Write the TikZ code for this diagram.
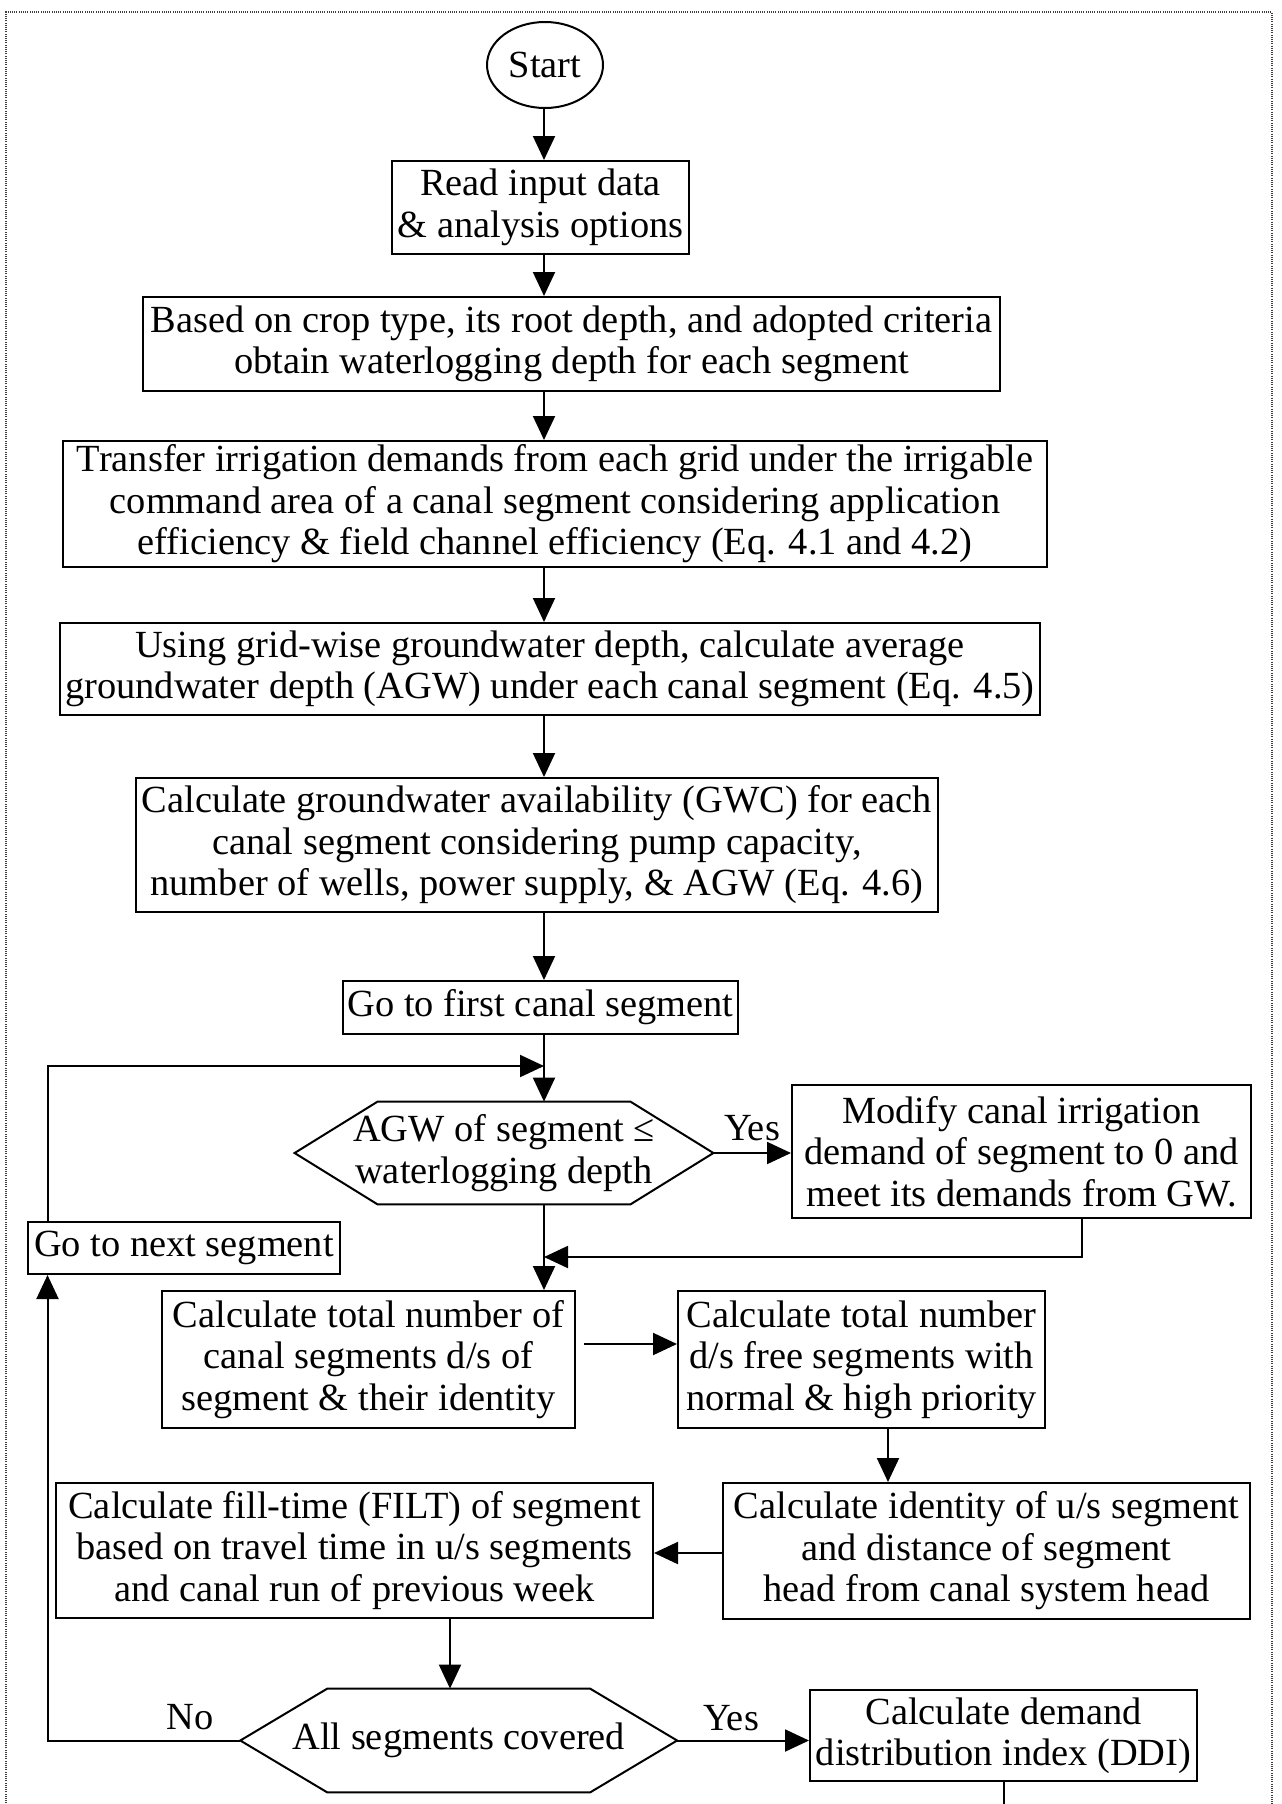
\documentclass[tikz,border=0pt]{standalone}
\usepackage{fontspec}
\setmainfont{Liberation Serif}
\usetikzlibrary{arrows.meta,calc,shapes.geometric}

% hexagonal decision outline drawn around a borderless node
\newcommand\drawhex[2]{%
  \draw[line width=1pt] (#1.west) -- ($(#1.north west)+(#2,0)$) -- ($(#1.north east)+(-#2,0)$)
    -- (#1.east) -- ($(#1.south east)+(-#2,0)$) -- ($(#1.south west)+(#2,0)$) -- cycle;}

\begin{document}
\begin{tikzpicture}[x=0.5pt,y=-0.5pt,
  every node/.style={font=\fontsize{19.2}{20.75}\selectfont},
  sz/.style 2 args={minimum width=#1*0.5pt, minimum height=#2*0.5pt},
  stepbox/.style={draw, line width=1pt, inner sep=0pt, align=center},
  hexnode/.style={inner sep=0pt, align=center},
  flow/.style={line width=1pt, -{Triangle[length=12pt,width=11pt]}},
  plain/.style={line width=1pt},
  frame/.style={line width=0.7pt, dash pattern=on 0.5pt off 0.6pt, black!75},
  lbl/.style={inner sep=0pt},
]
\useasboundingbox (0,0) rectangle (1281,1804);

% page frame
\draw[frame] (6,1810) -- (6,12) -- (1272,12) -- (1272,1810);

% column guides
\coordinate (col) at (544,0);
\coordinate (lx) at (47.5,0);
\coordinate (jtop) at (544,1066);
\coordinate (jmid) at (544,1257);
\coordinate (c12) at (0,1344);
\coordinate (c2x) at (888,0);
\coordinate (yid) at (0,1553);
\coordinate (fx) at (450,0);
\coordinate (bot) at (0,1812);

% process steps
\node[draw, ellipse, line width=1pt, sz={116}{86}, inner sep=0pt] (start) at (545,65) {Start};
\node[stepbox, sz={297}{93}] (read) at (540.5,207.5) {Read input data\\ \& analysis options};
\node[stepbox, sz={857}{94}] (based) at (571.5,344) {Based on crop type, its root depth, and adopted criteria\\ obtain waterlogging depth for each segment};
\node[stepbox, sz={984}{126}] (transfer) at (555,504) {Transfer irrigation demands from each grid under the irrigable\\ command area of a canal segment considering application\\ efficiency \& field channel efficiency (Eq. 4.1 and 4.2)};
\node[stepbox, sz={980}{92}] (using) at (550,669) {Using grid-wise groundwater depth, calculate average\\ groundwater depth (AGW) under each canal segment (Eq. 4.5)};
\node[stepbox, sz={802}{134}] (gwc) at (537,845) {Calculate groundwater availability (GWC) for each\\ canal segment considering pump capacity,\\ number of wells, power supply, \& AGW (Eq. 4.6)};
\node[stepbox, sz={395}{53}] (first) at (540.5,1007.5) {Go to first canal segment};
\node[hexnode, sz={418}{102}] (hex1) at (504,1153) {AGW of segment ≤\\ waterlogging depth};
\drawhex{hex1}{83}
\node[stepbox, sz={459}{133}] (modify) at (1021.5,1151.5) {Modify canal irrigation\\ demand of segment to 0 and\\ meet its demands from GW.};
\node[stepbox, sz={312}{52}] (next) at (184,1248) {Go to next segment};
\node[stepbox, sz={413}{137}] (calc1) at (368.5,1359.5) {Calculate total number of\\ canal segments d/s of\\ segment \& their identity};
\node[stepbox, sz={367}{137}] (calc2) at (861.5,1359.5) {Calculate total number\\ d/s free segments with\\ normal \& high priority};
\node[stepbox, sz={527}{136}] (ident) at (986.5,1551) {Calculate identity of u/s segment\\ and distance of segment\\ head from canal system head};
\node[stepbox, sz={597}{135}] (filt) at (354.5,1550.5) {Calculate fill-time (FILT) of segment\\ based on travel time in u/s segments\\ and canal run of previous week};
\node[hexnode, sz={436}{103}] (hex2) at (458.7,1740.5) {All segments covered};
\drawhex{hex2}{87}
\node[stepbox, sz={387}{91}] (ddi) at (1003.5,1735.5) {Calculate demand\\ distribution index (DDI)};

% branch labels
\node[lbl] (yes1) at (752,1128) {Yes};
\node[lbl] (no2) at (190,1717) {No};
\node[lbl] (yes2) at (731,1718) {Yes};

% connectors
\draw[flow] (start.south -| col) -- (read.north -| col);
\draw[flow] (read.south -| col) -- (based.north -| col);
\draw[flow] (based.south -| col) -- (transfer.north -| col);
\draw[flow] (transfer.south -| col) -- (using.north -| col);
\draw[flow] (using.south -| col) -- (gwc.north -| col);
\draw[flow] (gwc.south -| col) -- (first.north -| col);
\draw[flow] (first.south -| col) -- (hex1.north -| col);
\draw[flow] (next.north -| lx) |- (jtop);
\draw[flow] (hex1.east) -- (modify.west |- hex1.east);
\draw[flow] ($(modify.south)+(60.5,0)$) |- (jmid);
\draw[flow] (hex1.south -| col) -- (calc1.north -| col);
\draw[flow] ([xshift=4pt]calc1.east |- c12) -- (calc2.west |- c12);
\draw[flow] (calc2.south -| c2x) -- (ident.north -| c2x);
\draw[flow] (ident.west |- yid) -- (filt.east |- yid);
\draw[flow] (filt.south -| fx) -- (hex2.north -| fx);
\draw[flow] (hex2.west) -| (next.south -| lx);
\draw[flow] (hex2.east) -- (ddi.west |- hex2.east);
\draw[plain] (ddi.south) -- (ddi.south |- bot);
\end{tikzpicture}
\end{document}
